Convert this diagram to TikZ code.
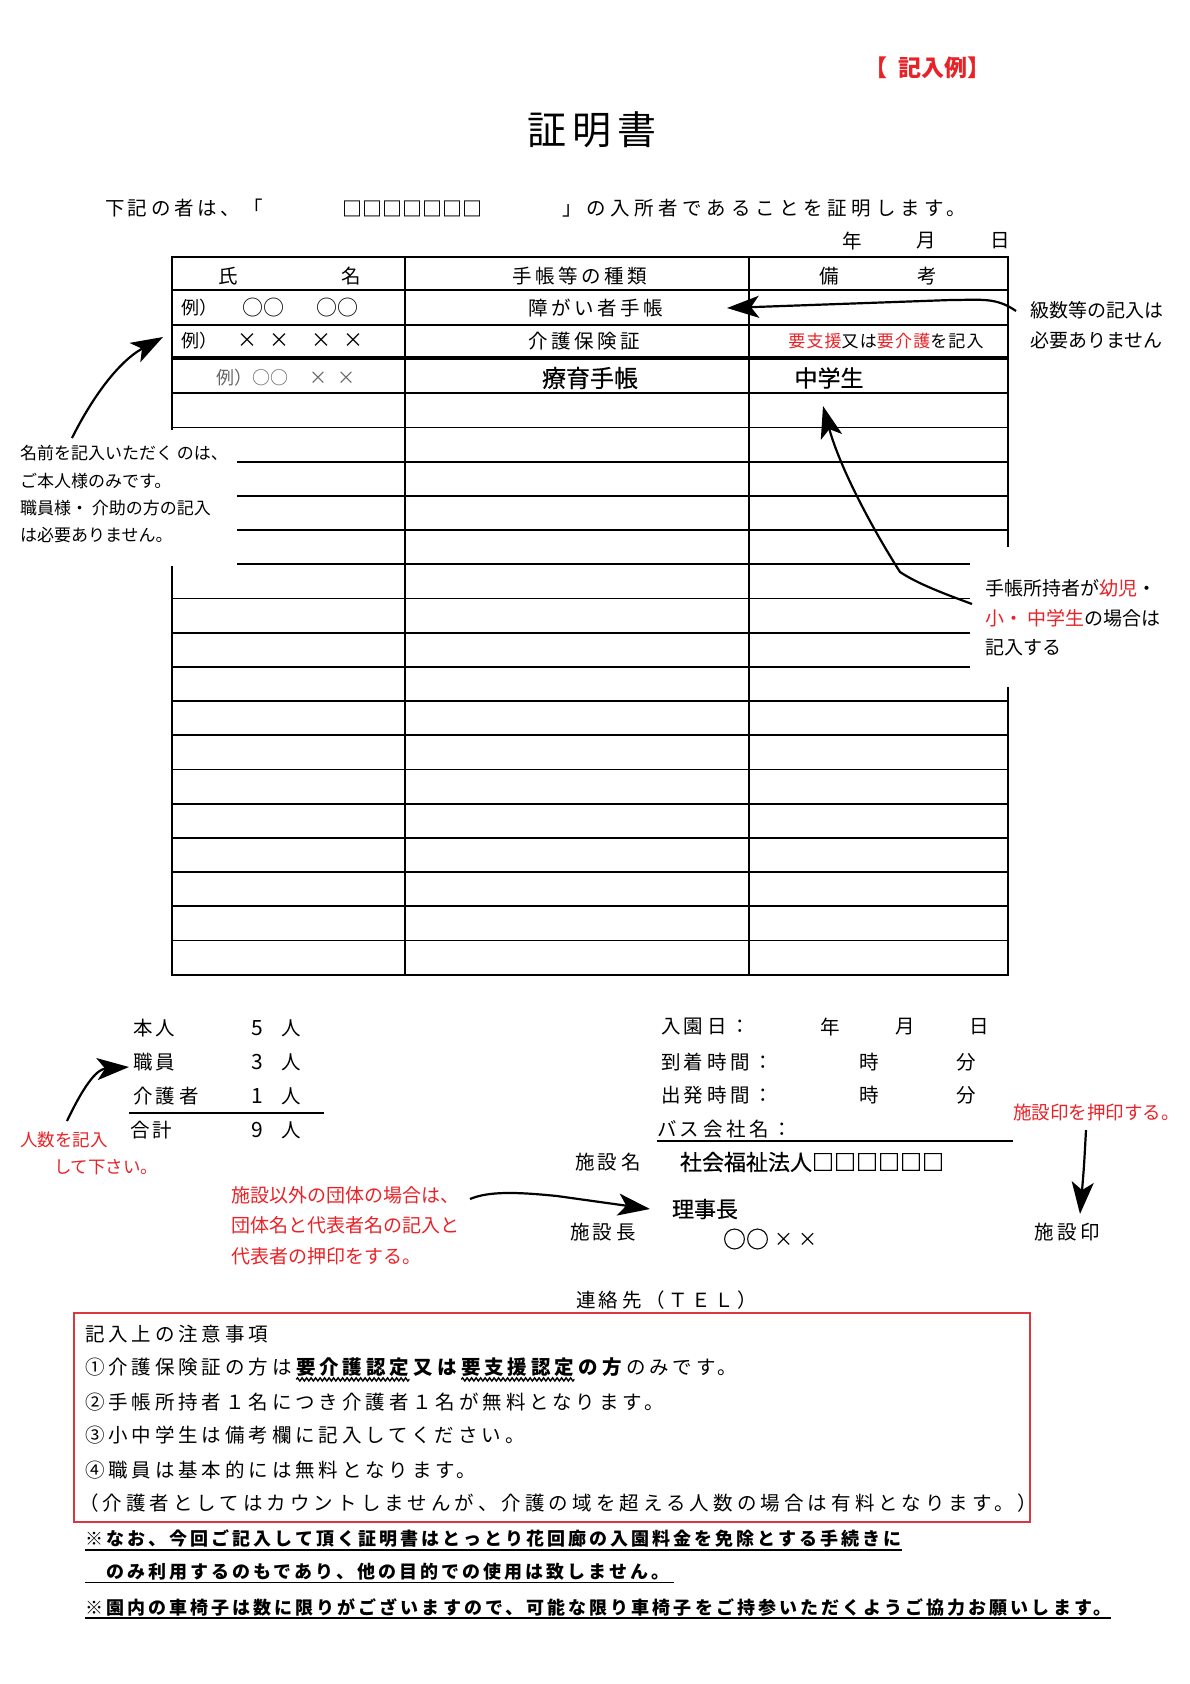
\documentclass[tikz,border=0pt]{standalone}
\usepackage{fontspec}
\setmainfont{Noto Sans CJK JP}
\newfontfamily\fmfam[LetterSpace=18]{Noto Sans CJK JP}
\newfontfamily\fmwfam[LetterSpace=24]{Noto Sans CJK JP}
\newfontfamily\bxfam[LetterSpace=20]{Noto Sans CJK JP}
\newfontfamily\bxwfam[LetterSpace=21]{Noto Sans CJK JP}
\newfontfamily\ntfam[LetterSpace=17]{Noto Sans CJK JP}
\newfontfamily\ttlfam[LetterSpace=15]{Noto Sans CJK JP}
\newfontfamily\medfam[FakeBold=0.4]{Noto Sans CJK JP}
\usetikzlibrary{arrows.meta,decorations.pathmorphing,calc}
\definecolor{redtxt}{RGB}{232,35,40}
\definecolor{redbox}{RGB}{218,55,65}
\newcommand\fmfont{\fmfam\fontsize{19.5}{21}\selectfont}
\newcommand\fmwide{\fmwfam\fontsize{19.5}{21}\selectfont}
\newcommand\bxfont{\bxfam\fontsize{19.5}{21}\selectfont}
\newcommand\bxbold{\bxfam\bfseries\fontsize{19.5}{21}\selectfont}
\newcommand\bxwide{\bxwfam\fontsize{19.5}{21}\selectfont}
\newcommand\anfont{\fontsize{19}{21}\selectfont}
\newcommand\smfont{\fontsize{17}{19}\selectfont}
\newcommand\ntfont{\ntfam\bfseries\fontsize{18}{20}\selectfont}
\tikzset{
  fm/.style={font=\fmfont,anchor=west},
  fmc/.style={font=\fmfont,anchor=center},
  bx/.style={font=\bxfont,anchor=west},
  bxb/.style={font=\bxbold,anchor=base west},
  an/.style={font=\anfont,anchor=west},
  anr/.style={font=\anfont,anchor=west,text=redtxt},
  sm/.style={font=\smfont,anchor=west},
  bigarrow/.style={line width=2.2pt,-{Stealth[length=32pt,width=22pt,inset=8pt]}},
  rowline/.style={line width=1.7pt},
  colline/.style={line width=2pt},
  wavy/.style={decorate,decoration={snake,amplitude=1.6pt,segment length=4.5pt},line width=1.4pt},
  uline/.style={line width=1.6pt},
}
\begin{document}
\begin{tikzpicture}[x=1pt,y=-1pt,every node/.style={inner sep=0pt,outer sep=0pt}]
\useasboundingbox (0,0) rectangle (1190,1684);
\fill[white] (0,0) rectangle (1190,1684);

% header
\node[anchor=west,font=\fontsize{23}{24}\selectfont\bfseries,text=redtxt] (rei) at (864,68) {【\hspace{12pt}記入例】};
\node[font=\ttlfam\fontsize{39}{42}\selectfont] (title) at (592,130) {証明書};
\node[fm] (in1) at (105,208) {下記の者は、「};
\node[anchor=west,font=\fontsize{20}{21}\selectfont\bfseries] (boxes) at (342,209) {□□□□□□□};
\node[anchor=west,font=\fmwide] (in2) at (562,208) {」の入所者であることを証明します。};
\node[fmc] (yr) at (852.5,241) {年};
\node[fmc] (mo) at (926.5,241) {月};
\node[fmc] (dy) at (1000.5,241) {日};

% table
\foreach \yy/\ww in {257/1.8,290/2.4,325/2.4,393.3/2}{\draw[line width=\ww pt] (172,\yy) -- (1008,\yy);}
\draw[line width=3.8pt] (172,358.3) -- (1008,358.3);
\foreach \i in {1,...,17}{\pgfmathsetmacro\yy{393.3+34.2*\i}\draw[rowline] (172,\yy) -- (1008,\yy);}
\draw[line width=1.6pt] (172,256) -- (172,975.5);
\draw[colline] (405,256) -- (405,975.5);
\draw[colline] (749,256) -- (749,975.5);
\draw[line width=1.6pt] (1008,256) -- (1008,975.5);
% white boxes over the table
\fill[white] (0,430) rectangle (237,566);
\fill[white] (970,547) rectangle (1190,687);

\node[fmc] (h1a) at (228,276) {氏};
\node[fmc] (h1b) at (351,276) {名};
\node[fmc] (h2) at (580,276) {手帳等の種類};
\node[fmc] (h3a) at (829,276) {備};
\node[fmc] (h3b) at (927,276) {考};

\node[anchor=west,font=\fontsize{18}{20}\selectfont] (r1a) at (181,308) {例）};
\node[font=\fontsize{21}{22}\selectfont] (r1b) at (263,308) {○○};
\node[font=\fontsize{21}{22}\selectfont] (r1c) at (337,308) {○○};
\node[fmc] (r1d) at (596,308) {障がい者手帳};

\node[anchor=west,font=\fontsize{18}{20}\selectfont] (r2a) at (181,341) {例）};
\node[font=\fontsize{20}{22}\selectfont] (r2b) at (263,341) {×\hspace{12pt}×};
\node[font=\fontsize{20}{22}\selectfont] (r2c) at (337,341) {×\hspace{12pt}×};
\node[fmc] (r2d) at (584,341) {介護保険証};
\node[font=\fontsize{17}{19}\selectfont\addfontfeatures{LetterSpace=7}] (r2e) at (886,341) {\textcolor{redtxt}{要支援}又は\textcolor{redtxt}{要介護}を記入};

\node[font=\fontsize{18}{20}\selectfont,text=black!60] (r3a) at (286,378) {例）○○\hspace{22pt}×\hspace{10pt}×};
\node[font=\medfam\fontsize{24}{26}\selectfont] (r3b) at (590,378) {療育手帳};
\node[font=\medfam\fontsize{23}{25}\selectfont] (r3c) at (829,378) {中学生};

% annotations around the table
\node[an] (k1) at (1030,310) {級数等の記入は};
\node[an] (k2) at (1030,340) {必要ありません};
\coordinate (a1s) at (1016,311);
\coordinate (a1t) at (727,308);
\draw[bigarrow] (a1s) .. controls (996,297) and (981,300) .. (951,300) -- (a1t);

\node[sm] (l1) at (20,453) {名前を記入いただく のは、};
\node[sm] (l2) at (20,481) {ご本人様のみです。};
\node[sm] (l3) at (20,508) {職員様・ 介助の方の記入};
\node[sm] (l4) at (20,535) {は必要ありません。};
\coordinate (a3s) at (72,438);
\coordinate (a3t) at (163,337);
\draw[bigarrow] (a3s) .. controls (92,398) and (118,362) .. (a3t);

\node[an] (m1) at (985,588) {手帳所持者が\textcolor{redtxt}{幼児}・};
\node[an] (m2) at (985,618) {\textcolor{redtxt}{小・ 中学生}の場合は};
\node[an] (m3) at (985,648) {記入する};
\coordinate (a2s) at (972,604);
\coordinate (a2m) at (900,572);
\coordinate (a2t) at (823,406);
\draw[bigarrow] (a2s) .. controls (945,594) and (918,584) .. (a2m) .. controls (872,528) and (840,468) .. (a2t);

% counts
\node[fm] (p1) at (133,1028) {本人};
\node[fm] (p2) at (133,1062) {職員};
\node[fm] (p3) at (133,1096) {介護者};
\node[fm] (p4) at (130,1130) {合計};
\node[font=\fontsize{21}{22}\selectfont] (n1) at (257,1028) {5};
\node[font=\fontsize{21}{22}\selectfont] (n2) at (257,1062) {3};
\node[font=\fontsize{21}{22}\selectfont] (n3) at (257,1096) {1};
\node[font=\fontsize{21}{22}\selectfont] (n4) at (257,1130) {9};
\node[fmc] (u1) at (291,1028) {人};
\node[fmc] (u2) at (291,1062) {人};
\node[fmc] (u3) at (291,1096) {人};
\node[fmc] (u4) at (291,1130) {人};
\draw[line width=1.5pt] (129,1113) -- (324,1113);

\node[anchor=west,font=\fontsize{17.5}{19}\selectfont,text=redtxt] (q1) at (20,1140) {人数を記入};
\node[anchor=west,font=\fontsize{17.5}{19}\selectfont,text=redtxt] (q2) at (54,1167) {して下さい。};
\coordinate (a4s) at (67,1121);
\coordinate (a4t) at (129,1067);
\draw[bigarrow] (a4s) .. controls (86,1081) and (98,1069) .. (a4t);

\node[anr] (g1) at (231,1195) {施設以外の団体の場合は、};
\node[anr] (g2) at (231,1225) {団体名と代表者名の記入と};
\node[anr] (g3) at (231,1256) {代表者の押印をする。};
\coordinate (a5s) at (470,1199);
\coordinate (a5t) at (650,1209);
\draw[bigarrow] (a5s) .. controls (489,1191) and (517,1192) .. (557,1196) -- (a5t);

% right block
\node[fm] (e1) at (661,1027) {入園日：};
\node[fmc] (e1y) at (830,1027) {年};
\node[fmc] (e1m) at (905,1027) {月};
\node[fmc] (e1d) at (979,1027) {日};
\node[fm] (e2) at (661,1062) {到着時間：};
\node[fmc] (e2h) at (869,1062) {時};
\node[fmc] (e2m) at (966,1062) {分};
\node[fm] (e3) at (661,1095) {出発時間：};
\node[fmc] (e3h) at (869,1095) {時};
\node[fmc] (e3m) at (966,1095) {分};
\node[fm] (e4) at (657,1129) {バス会社名：};
\draw[line width=1.8pt] (657,1141) -- (1013,1141);
\node[fm] (f1) at (575,1162) {施設名};
\node[anchor=west,font=\medfam\fontsize{22}{24}\selectfont] (f1v) at (680,1162) {社会福祉法人□□□□□□};
\node[anchor=west,font=\medfam\fontsize{22}{24}\selectfont] (f2v) at (672,1209) {理事長};
\node[fm] (f2) at (570,1232) {施設長};
\node[anchor=west,font=\medfam\fontsize{23}{24}\selectfont] (f2n) at (723,1239) {○○};
\node[anchor=west,font=\fontsize{19}{20}\selectfont] (f2x) at (774,1240) {×\hspace{6pt}×};
\node[anchor=west,font=\fontsize{18.5}{20}\selectfont,text=redtxt] (s1) at (1013,1112) {施設印を押印する。};
\node[fm] (s2) at (1034,1232) {施設印};
\coordinate (a6s) at (1086,1130);
\coordinate (a6t) at (1080,1214);
\draw[bigarrow] (a6s) .. controls (1084,1167) .. (a6t);
\node[fm] (tel) at (576,1300) {連絡先（ＴＥＬ）};

% notes box
\draw[redbox,line width=2pt] (73.5,1313) rectangle (1030,1522);
\node[bx] (c0) at (85,1334) {記入上の注意事項};
\node[bx] (c1a) at (85,1367) {①介護保険証の方は};
\node[bxb] (c1b) at ([xshift=4.5pt]c1a.base east) {要介護認定};
\node[bxb] (c1c) at ([xshift=4.5pt]c1b.base east) {又は};
\node[bxb] (c1d) at ([xshift=4.5pt]c1c.base east) {要支援認定};
\node[bxb] (c1e) at ([xshift=4.5pt]c1d.base east) {の方};
\node[font=\bxfont,anchor=base west] (c1f) at ([xshift=4.5pt]c1e.base east) {のみです。};
\draw[wavy] ([yshift=-3pt]c1b.south west) -- ([yshift=-3pt]c1b.south east);
\draw[wavy] ([yshift=-3pt]c1d.south west) -- ([yshift=-3pt]c1d.south east);
\node[bx] (c2) at (85,1402) {②手帳所持者１名につき介護者１名が無料となります。};
\node[bx] (c3) at (85,1435) {③小中学生は備考欄に記入してください。};
\node[bx] (c4) at (85,1470) {④職員は基本的には無料となります。};
\node[anchor=west,font=\bxwide] (c5) at (79,1503) {（介護者としてはカウントしませんが、介護の域を超える人数の場合は有料となります。）};

% footnotes
\node[anchor=west,font=\ntfont] (la) at (85,1539) {※なお、今回ご記入して頂く証明書はとっとり花回廊の入園料金を免除とする手続きに};
\draw[uline] ([yshift=-2pt]la.south west) -- ([yshift=-2pt]la.south east);
\node[anchor=west,font=\ntfont] (lb) at (106,1572) {のみ利用するのもであり、他の目的での使用は致しません。};
\draw[uline] ([xshift=-21pt,yshift=-2pt]lb.south west) -- ([xshift=5pt,yshift=-2pt]lb.south east);
\node[anchor=west,font=\ntfont] (lc) at (85,1607) {※園内の車椅子は数に限りがございますので、可能な限り車椅子をご持参いただくようご協力お願いします。};
\draw[uline] ([yshift=-2pt]lc.south west) -- ([yshift=-2pt]lc.south east);
\end{tikzpicture}
\end{document}
